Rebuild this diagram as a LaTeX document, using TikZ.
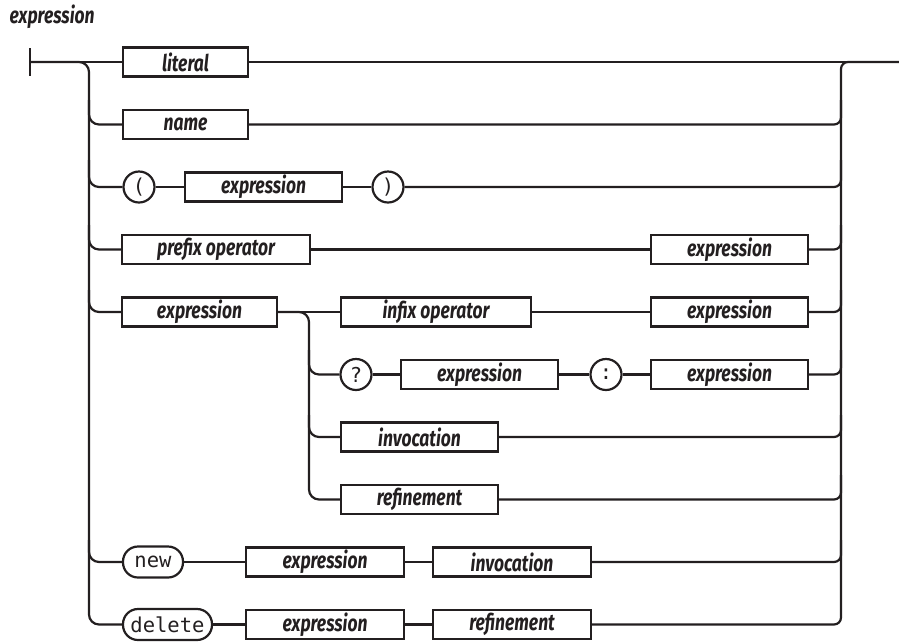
\documentclass[tikz,border=0pt]{standalone}
\usepackage{fontspec}
\newfontfamily\labfont[FakeStretch=0.76]{Fira Sans}
\newfontfamily\kwfont{DejaVu Sans Mono}
\definecolor{ink}{HTML}{231F20}
\tikzset{
  lab/.style={font=\labfont\bfseries\itshape\fontsize{23}{26}\selectfont, text=ink},
  box/.style={lab, draw=ink, line width=2.2pt, minimum height=29pt, inner sep=0pt},
  kwbox/.style={draw=ink, line width=2.2pt, rounded corners=15pt, minimum height=31pt, inner sep=0pt, font=\kwfont\fontsize{20.5}{24}\selectfont, text=ink},
  circ/.style={draw=ink, line width=2.2pt, circle, minimum size=31pt, inner sep=0pt, font=\kwfont\fontsize{20.5}{24}\selectfont, text=ink},
  wire/.style={draw=ink, line width=2.2pt},
  lj/.style={wire, rounded corners=10pt},
  rj/.style={wire, rounded corners=7pt},
}
\begin{document}
\begin{tikzpicture}[x=1pt,y=-1pt]
\useasboundingbox (0,0) rectangle (899,641);
\node[lab, anchor=west] (title) at (6,17) {expression};
% coordinates
\coordinate (start) at (30,62);
\coordinate (end) at (899,62);
\coordinate (Lb) at (89,624.5);
\coordinate (R1) at (841,62);
% row 1
\node[box, minimum width=125pt] (lit) at (185.5,62) {literal};
% row 2
\node[box, minimum width=125pt] (nm) at (185.5,124.5) {name};
% row 3
\node[circ] (lp) at (139,187) {(};
\node[box, minimum width=157pt] (ex3) at (263.5,187) {expression};
\node[circ] (rp) at (388,187) {)};
% row 4
\node[box, minimum width=188pt] (pre) at (216,249.5) {prefix operator};
\node[box, minimum width=157pt] (ex4) at (729.5,249.5) {expression};
% row 5
\node[box, minimum width=155pt] (ex5) at (199.5,312) {expression};
\node[box, minimum width=190pt] (inf) at (436,312) {infix operator};
\node[box, minimum width=157pt] (ex5b) at (729.5,312) {expression};
% row 6
\node[circ] (q) at (356,374.5) {?};
\node[box, minimum width=157pt] (ex6) at (479.5,374.5) {expression};
\node[circ] (col) at (606,374.5) {:};
\node[box, minimum width=157pt] (ex6b) at (729.5,374.5) {expression};
% row 7
\node[box, minimum width=157pt] (inv7) at (419.5,437) {invocation};
% row 8
\node[box, minimum width=157pt] (ref8) at (419.5,499.5) {refinement};
% row 9
\node[kwbox, minimum width=60pt] (new) at (153,562) {new};
\node[box, minimum width=158pt] (ex9) at (325,562) {expression};
\node[box, minimum width=158pt] (inv9) at (512,562) {invocation};
% row 10
\node[kwbox, minimum width=89pt] (del) at (167.5,624.5) {delete};
\node[box, minimum width=158pt] (ex10) at (325,624.5) {expression};
\node[box, minimum width=158pt] (ref10) at (512,624.5) {refinement};
% junction coordinates
\coordinate (L2) at (89,100);
\coordinate (L3) at (89,160);
\coordinate (L4) at (89,225);
\coordinate (L5) at (89,290);
\coordinate (L9) at (89,540);
\coordinate (Sb) at (309,499.5);
\coordinate (S6) at (309,350);
\coordinate (S7) at (309,415);
\coordinate (R2) at (841,100);
\coordinate (R3) at (841,160);
\coordinate (R4) at (841,225);
\coordinate (R5) at (841,290);
\coordinate (R6) at (841,350);
\coordinate (R7) at (841,415);
\coordinate (R8) at (841,475);
\coordinate (R9) at (841,540);
% start bar and main line
\draw[wire] ([yshift=14pt]start) -- ([yshift=-14pt]start);
\draw[wire] (start) -- (lit.west);
\draw[wire] (lit.east) -- (end);
% left bracket
\draw[lj] (start) -| (Lb) -- (del.west);
\draw[lj] (L2) |- (nm.west);
\draw[lj] (L3) |- (lp.west);
\draw[lj] (L4) |- (pre.west);
\draw[lj] (L5) |- (ex5.west);
\draw[lj] (L9) |- (new.west);
% right bracket
\draw[rj] (ref10.east) -| (R1) -- (end);
\draw[rj] (nm.east) -| (R2);
\draw[rj] (rp.east) -| (R3);
\draw[rj] (ex4.east) -| (R4);
\draw[rj] (ex5b.east) -| (R5);
\draw[rj] (ex6b.east) -| (R6);
\draw[rj] (inv7.east) -| (R7);
\draw[rj] (ref8.east) -| (R8);
\draw[rj] (inv9.east) -| (R9);
% row connectors
\draw[wire] (lp.east) -- (ex3.west);
\draw[wire] (ex3.east) -- (rp.west);
\draw[wire] (pre.east) -- (ex4.west);
\draw[wire] (ex5.east) -- (inf.west);
\draw[wire] (inf.east) -- (ex5b.west);
\draw[lj] (ex5.east) -| (Sb) -- (ref8.west);
\draw[lj] (S6) |- (q.west);
\draw[lj] (S7) |- (inv7.west);
\draw[wire] (q.east) -- (ex6.west);
\draw[wire] (ex6.east) -- (col.west);
\draw[wire] (col.east) -- (ex6b.west);
\draw[wire] (new.east) -- (ex9.west);
\draw[wire] (ex9.east) -- (inv9.west);
\draw[wire] (del.east) -- (ex10.west);
\draw[wire] (ex10.east) -- (ref10.west);
\end{tikzpicture}
\end{document}
